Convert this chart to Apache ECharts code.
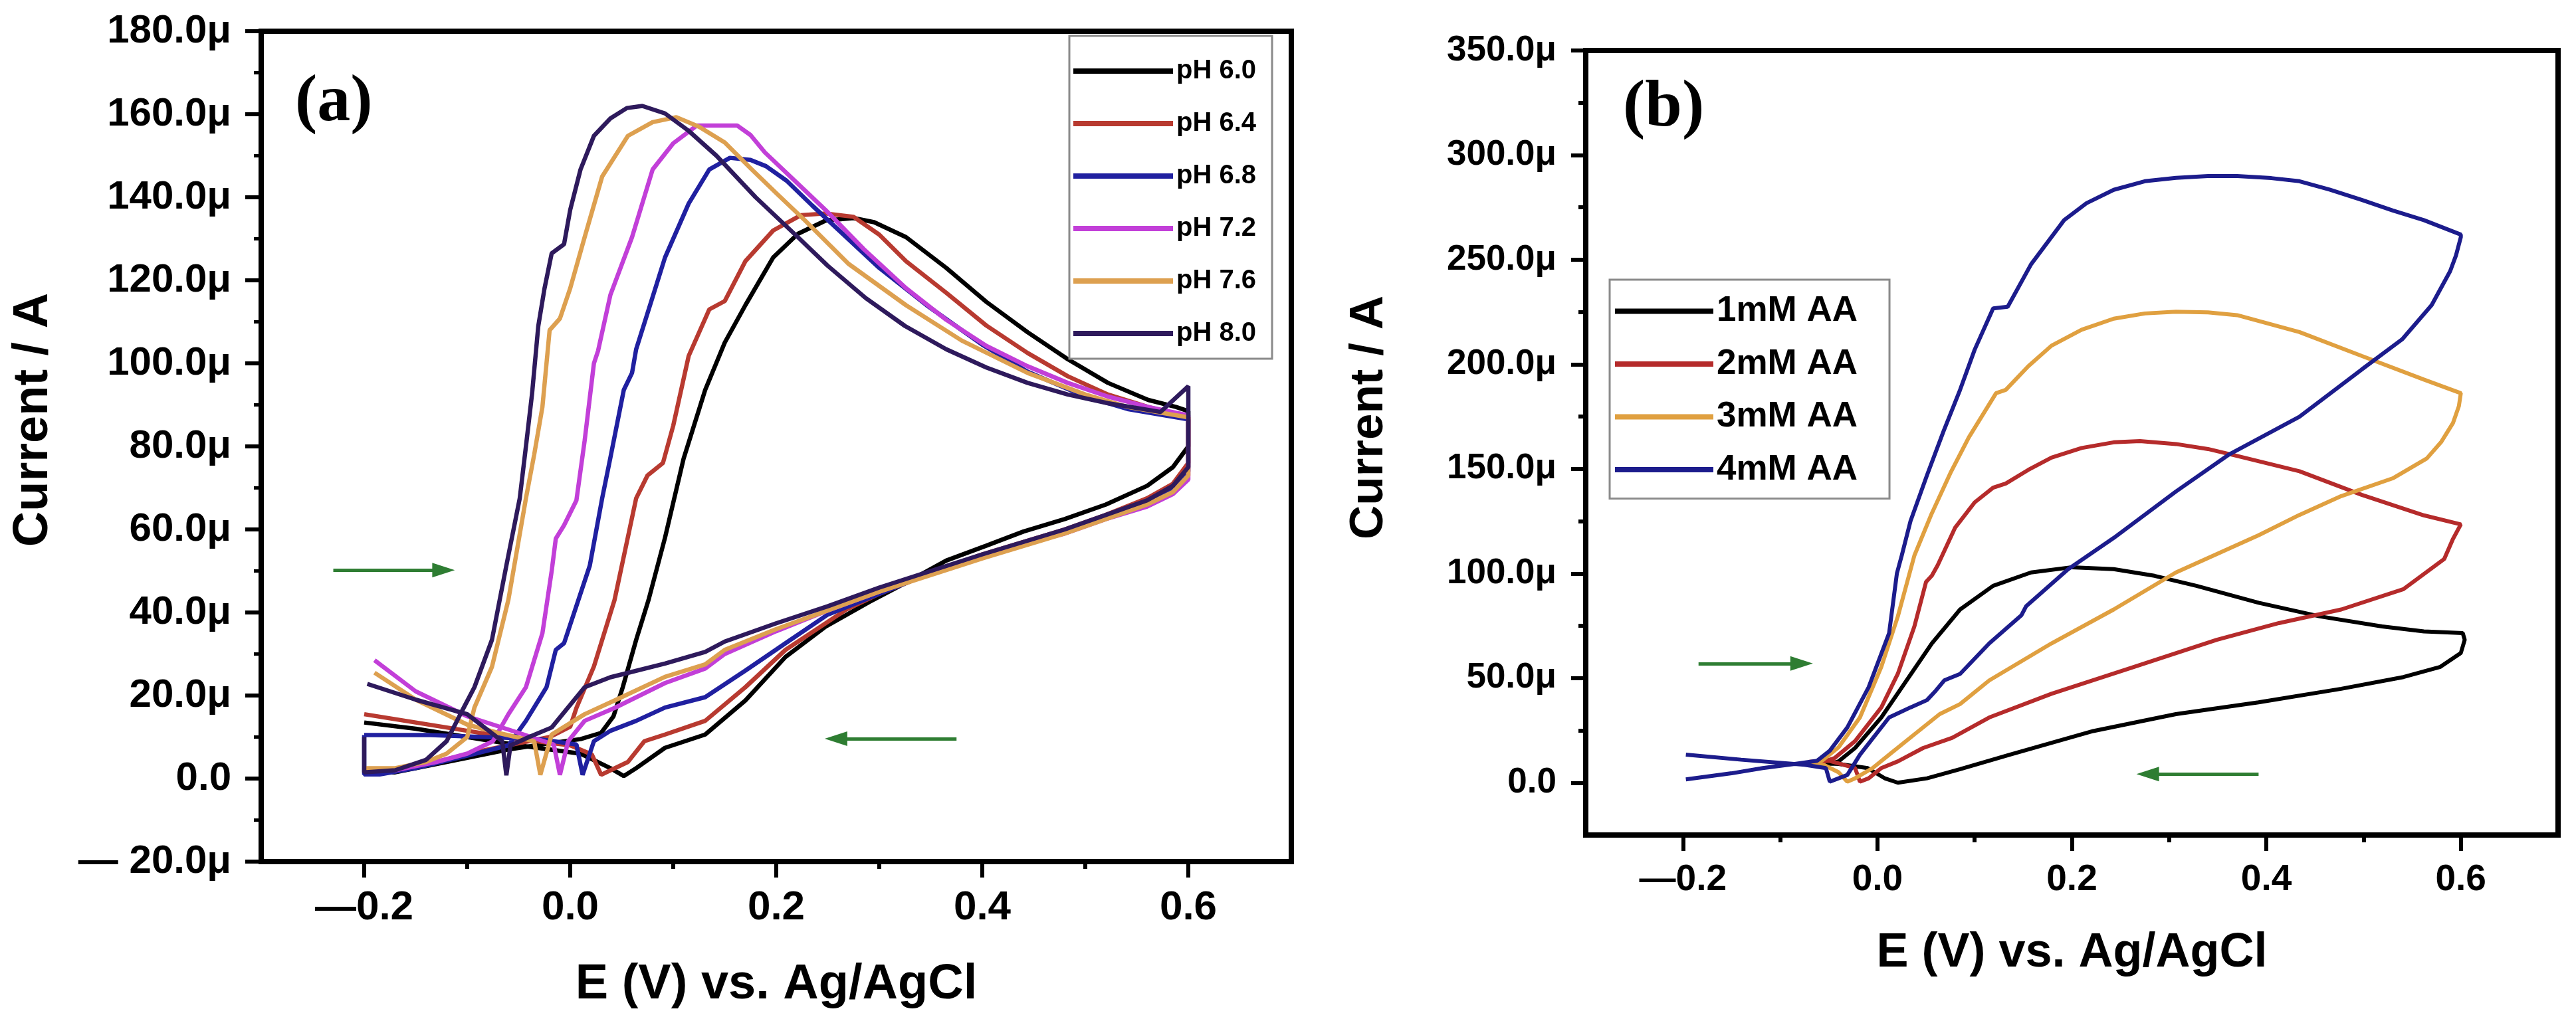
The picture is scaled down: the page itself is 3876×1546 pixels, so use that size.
<!DOCTYPE html>
<html><head><meta charset="utf-8">
<script src="https://cdn.jsdelivr.net/npm/echarts@6/dist/echarts.min.js"></script>
<style>html,body{margin:0;padding:0;background:#fff}#c{width:3876px;height:1546px}</style>
</head><body><div id="c"></div>
<script>
// ---------- Panel (a): CV at different pH (E in V, I in µA) ----------
const phNames = ['pH 6.0','pH 6.4','pH 6.8','pH 7.2','pH 7.6','pH 8.0'];
const phColors = ['#000000','#b83a30','#2020a0','#c23fd8','#dda050','#2e1a5c'];
const ph60 = [[-0.2,1.5],[-0.17,1.5],[-0.14,3],[-0.1,5],[-0.06,7],[-0.02,8.5],[0.01,9.5],[0.03,11],[0.042,15],[0.051,22],[0.064,33.4],[0.076,43],[0.092,58],[0.11,77],[0.131,93.6],[0.15,105],[0.17,114],[0.197,125.5],[0.221,131.2],[0.248,134.4],[0.275,135],[0.295,134],[0.326,130.4],[0.365,123],[0.404,114.8],[0.444,107.5],[0.483,101],[0.522,95.3],[0.561,91.2],[0.588,89.5],[0.6,88.5],
  [0.6,80],[0.585,75],[0.56,70.5],[0.52,66],[0.48,62.5],[0.44,59.5],[0.404,56.1],[0.365,52.5],[0.326,47.2],[0.29,42.5],[0.248,36.6],[0.209,29.3],[0.17,18.8],[0.131,10.6],[0.092,7.4],[0.064,2.5],[0.052,0.6],[0.039,2.5],[0.01,6],[-0.05,8],[-0.1,10],[-0.15,12],[-0.2,13.5]];
const ph64 = [[-0.2,1],[-0.17,2],[-0.13,4],[-0.09,6.5],[-0.05,8.5],[-0.02,10],[0.0,12.5],[0.006,17],[0.023,27],[0.043,43],[0.064,67.5],[0.075,73],[0.09,76],[0.1,85],[0.115,101.8],[0.135,113],[0.15,115],[0.17,124.6],[0.197,132],[0.224,135.7],[0.248,136.1],[0.275,135.3],[0.3,131],[0.326,124.6],[0.365,117],[0.404,109.1],[0.444,102.5],[0.483,96.9],[0.522,92.5],[0.561,89.5],[0.6,87],
  [0.6,76],[0.585,71],[0.56,67.5],[0.52,63.5],[0.48,60],[0.44,57],[0.4,54],[0.35,49.5],[0.3,44.5],[0.268,40.7],[0.209,31],[0.17,22],[0.131,13.9],[0.092,10.6],[0.072,9],[0.056,4],[0.03,0.9],[0.021,5.8],[0.0,8],[-0.05,9.5],[-0.1,11.5],[-0.15,13.5],[-0.2,15.5]];
const ph68 = [[-0.2,10.5],[-0.2,1],[-0.185,1],[-0.15,2.5],[-0.1,5.5],[-0.06,8],[-0.043,13.9],[-0.023,22],[-0.014,31],[-0.006,32.6],[0.019,51.3],[0.031,67.5],[0.039,77.3],[0.052,93.6],[0.06,97.7],[0.064,103.4],[0.08,116],[0.092,125.5],[0.115,138.5],[0.135,146.7],[0.155,149.5],[0.175,149],[0.19,147.5],[0.21,144],[0.235,138],[0.268,130.4],[0.3,123],[0.346,114],[0.4,104.5],[0.444,98],[0.5,92],[0.541,89],[0.6,86.5],
  [0.6,74],[0.585,70],[0.56,66.5],[0.52,63],[0.48,59.5],[0.44,56.5],[0.4,53.5],[0.35,49.5],[0.3,44.5],[0.25,39.5],[0.209,32.6],[0.17,26],[0.131,19.6],[0.092,17.1],[0.064,13.9],[0.039,11.5],[0.023,9],[0.012,0.9],[0.006,8.2],[-0.03,9.5],[-0.06,9.8],[-0.14,10.5],[-0.2,10.5]];
const ph72 = [[-0.2,2],[-0.17,2],[-0.13,4],[-0.1,6],[-0.075,9],[-0.06,15.5],[-0.043,22],[-0.027,35],[-0.018,50],[-0.014,57.8],[-0.006,61],[0.0,64],[0.006,67],[0.014,81.4],[0.023,100],[0.027,103],[0.039,116.5],[0.06,130.4],[0.08,146.7],[0.1,153],[0.123,157.3],[0.162,157.3],[0.175,155],[0.189,150.8],[0.22,143.5],[0.248,136.9],[0.285,127.5],[0.326,118.1],[0.365,110.5],[0.404,104.2],[0.444,99.3],[0.483,95.3],[0.522,92],[0.561,89.5],[0.6,87.5],
  [0.6,72],[0.585,68.5],[0.56,65.5],[0.52,62.5],[0.48,59],[0.44,56.5],[0.4,53.5],[0.35,49.5],[0.3,45],[0.25,40.5],[0.2,35.5],[0.15,30],[0.131,26.5],[0.092,23],[0.043,17],[0.014,13.9],[-0.002,9],[-0.01,0.9],[-0.016,8.2],[-0.05,11],[-0.1,15],[-0.15,21],[-0.19,28.5]];
const ph76 = [[-0.2,2.5],[-0.17,2.5],[-0.14,4],[-0.12,6],[-0.1,10],[-0.093,17.1],[-0.076,26.9],[-0.06,43.1],[-0.043,67.5],[-0.035,78],[-0.027,89.5],[-0.02,108],[-0.01,110.8],[0.0,118.1],[0.014,130.4],[0.031,145],[0.056,154.8],[0.08,158.1],[0.103,159.3],[0.125,157],[0.15,153.2],[0.175,147],[0.2,141],[0.228,134.4],[0.27,124],[0.326,114],[0.38,105.5],[0.444,97.7],[0.5,92.5],[0.541,89.5],[0.6,87],
  [0.6,73],[0.585,69],[0.56,66],[0.52,62.5],[0.48,59],[0.44,56],[0.4,53],[0.35,49],[0.3,45],[0.25,40.5],[0.2,36],[0.15,31],[0.131,27.5],[0.092,24.5],[0.043,18.8],[0.014,15.5],[-0.018,10.6],[-0.029,0.9],[-0.035,9],[-0.07,11],[-0.1,13],[-0.15,19],[-0.19,25.5]];
const ph80 = [[-0.2,10],[-0.2,1.5],[-0.17,2],[-0.14,4.5],[-0.12,9],[-0.105,16.3],[-0.093,22],[-0.076,33.4],[-0.062,51.3],[-0.049,67.5],[-0.043,80],[-0.037,92.8],[-0.031,109],[-0.025,118],[-0.018,126.5],[-0.006,128.7],[0.0,137],[0.01,146.7],[0.023,154.8],[0.039,159],[0.055,161.5],[0.07,162],[0.092,160.2],[0.115,156],[0.142,150],[0.18,140],[0.221,130.4],[0.25,123.5],[0.287,115.7],[0.325,109],[0.365,103.4],[0.404,99],[0.444,95.3],[0.483,92.5],[0.522,90.4],[0.573,88.3],[0.6,94.5],
  [0.6,75],[0.585,70.5],[0.56,67],[0.52,63.5],[0.48,60],[0.44,57],[0.4,54],[0.35,50],[0.3,46],[0.25,41.5],[0.2,37.4],[0.15,33],[0.131,30.5],[0.092,27.7],[0.039,24.4],[0.014,22],[-0.018,12.3],[-0.04,10],[-0.058,8],[-0.062,0.8],[-0.066,9],[-0.1,15.5],[-0.15,19],[-0.197,22.8]];
const phData = [ph60, ph64, ph68, ph72, ph76, ph80];

// ---------- Panel (b): CV at different AA concentrations ----------
const aaNames = ['1mM AA','2mM AA','3mM AA','4mM AA'];
const aaColors = ['#000000','#b52b2b','#e0a040','#1c1c8c'];
const aa1 = [[-0.07,9.5],[-0.053,8.6],[-0.04,10.2],[-0.023,16.6],[0.004,31.2],[0.03,48.9],[0.056,66.6],[0.085,82.8],[0.119,94.1],[0.158,100.5],[0.2,103],[0.243,102.1],[0.285,98.9],[0.328,94.1],[0.392,86],[0.455,79.5],[0.519,74.7],[0.562,72.3],[0.602,71.5],
  [0.604,68.3],[0.6,62],[0.579,55.4],[0.541,50.5],[0.477,44.9],[0.392,38.4],[0.307,32.8],[0.222,24.7],[0.136,13.4],[0.085,6.5],[0.051,2.1],[0.021,0],[0.008,2],[-0.01,7],[-0.04,9],[-0.07,9.5]];
const aa2 = [[-0.07,10],[-0.056,10],[-0.044,11.8],[-0.023,19.9],[0.004,36],[0.021,52.1],[0.038,74.7],[0.05,96],[0.056,99],[0.062,104],[0.08,122],[0.1,134],[0.119,141],[0.132,143],[0.155,149.5],[0.179,155.4],[0.21,160],[0.243,162.7],[0.27,163.3],[0.307,161.9],[0.34,159.5],[0.37,156.2],[0.434,148.9],[0.498,137.6],[0.562,127.8],[0.6,123.5],
  [0.6,123],[0.592,116.6],[0.583,107],[0.541,92.5],[0.477,82.8],[0.413,76.3],[0.349,68.3],[0.264,55.4],[0.179,42.5],[0.115,31.2],[0.077,21.5],[0.047,16.6],[0.021,10.2],[0.004,7],[-0.009,2.1],[-0.018,0.5],[-0.023,7],[-0.05,10.5],[-0.07,10]];
const aa3 = [[-0.07,9],[-0.057,10.5],[-0.04,16.9],[-0.018,31.2],[0.004,55.4],[0.021,79.5],[0.038,108.6],[0.055,127.8],[0.075,148],[0.094,165.1],[0.122,186.2],[0.132,187.8],[0.155,199],[0.179,208.9],[0.21,216.5],[0.243,221.8],[0.275,224.3],[0.307,225.1],[0.34,224.8],[0.37,223.5],[0.434,215.4],[0.498,204],[0.562,192.7],[0.6,186.2],
  [0.598,180],[0.592,172],[0.58,163],[0.565,155],[0.53,145.5],[0.477,137],[0.434,128],[0.392,118.3],[0.307,100.5],[0.243,82.8],[0.179,66.6],[0.115,48.9],[0.085,37.6],[0.064,32.8],[0.038,23.1],[0.012,13.4],[-0.005,7],[-0.023,2.1],[-0.031,0.5],[-0.04,5],[-0.055,8.5],[-0.07,9]];
const aa4 = [[-0.197,1.6],[-0.15,4.5],[-0.118,7],[-0.085,9],[-0.062,10.5],[-0.049,15.3],[-0.031,26.4],[-0.009,45.7],[0.012,71.5],[0.02,100],[0.025,108.6],[0.034,125],[0.051,147],[0.068,168],[0.085,187.8],[0.1,207],[0.119,226.7],[0.134,227.5],[0.158,247.8],[0.192,268.9],[0.215,277],[0.243,283.4],[0.275,287.5],[0.307,289.1],[0.34,290],[0.37,290],[0.405,289],[0.434,287.5],[0.465,283.5],[0.498,278.6],[0.53,273.5],[0.562,268.9],[0.6,262],
  [0.6,260.8],[0.595,252],[0.589,244.5],[0.57,228.3],[0.54,212.1],[0.498,197.5],[0.434,174.9],[0.362,157],[0.307,139.2],[0.243,117],[0.196,102],[0.153,84.4],[0.148,80],[0.115,66.6],[0.085,52],[0.077,50.5],[0.069,49],[0.06,44],[0.051,39.5],[0.034,36],[0.012,31.2],[-0.018,13.4],[-0.031,3.7],[-0.049,0.5],[-0.053,7],[-0.075,8.6],[-0.14,11],[-0.197,13.4]];
const aaData = [aa1, aa2, aa3, aa4];

// ---------- ticks & annotations ----------
const xTicksMajor = [-0.2, 0, 0.2, 0.4, 0.6];
const xTicksMinor = [-0.1, 0.1, 0.3, 0.5];
const yTicksB = [0, 50, 100, 150, 200, 250, 300, 350];
const yTicksBMinor = [25, 75, 125, 175, 225, 275, 325];
const arrowsA = [[[-0.23, 50.2], [-0.123, 50.2]], [[0.375, 9.6], [0.258, 9.6]]];
const arrowsB = [[[-0.184, 57], [-0.078, 57]], [[0.392, 4.1], [0.278, 4.1]]];

const FONT = 'Liberation Sans, Arial, sans-serif';
function fmtY(v){ if (Math.abs(v) < 1e-9) return '0.0'; const s = Math.abs(v).toFixed(1) + 'μ'; return v < 0 ? '\u2014 ' + s : s; }
function fmtX(v){ if (Math.abs(v) < 1e-9) return '0.0'; const s = Math.abs(v).toFixed(1); return v < 0 ? '\u2014' + s : s; }

const axLine = {show:true, onZero:false, lineStyle:{color:'#000', width:8}};
function mainX(grid, fs, margin, nameFs, nameGap){
  return {gridIndex:grid, type:'value', min:-0.3, max:0.7, interval:0.1, position:'bottom',
    axisLine:axLine,
    axisTick:{show:true, inside:false, length:24, lineStyle:{color:'#000', width:6}, customValues:xTicksMajor},
    axisLabel:{show:true, customValues:xTicksMajor, formatter:fmtX, margin:margin, fontSize:fs, fontWeight:'bold', color:'#000', fontFamily:FONT},
    splitLine:{show:false},
    name:'E (V) vs. Ag/AgCl', nameLocation:'middle', nameGap:nameGap, nameMoveOverlap:false,
    nameTextStyle:{fontSize:nameFs, fontWeight:'bold', color:'#000', fontFamily:FONT}};
}
function minorX(grid){
  return {gridIndex:grid, type:'value', min:-0.3, max:0.7, interval:0.1, position:'bottom',
    axisLine:{show:false, onZero:false},
    axisTick:{show:true, inside:false, length:11, lineStyle:{color:'#000', width:6}, customValues:xTicksMinor},
    axisLabel:{show:false}, splitLine:{show:false}};
}
const arrowStyle = {silent:true, symbol:['none','triangle'], symbolSize:[22,34], label:{show:false},
  lineStyle:{color:'#2e7d32', width:5, type:'solid'}, emphasis:{disabled:true}, animation:false};

const series = [];
phData.forEach((d, i) => {
  const s = {name:phNames[i], type:'line', xAxisIndex:0, yAxisIndex:0, data:d, showSymbol:false, symbol:'none',
    lineStyle:{color:phColors[i], width:6.5}, itemStyle:{color:phColors[i]}, z:2+i, animation:false};
  if (i === 0) s.markLine = Object.assign({data: arrowsA.map(a => [{coord:a[0]}, {coord:a[1]}])}, arrowStyle);
  series.push(s);
});
aaData.forEach((d, i) => {
  const s = {name:aaNames[i], type:'line', xAxisIndex:2, yAxisIndex:1, data:d, showSymbol:false, symbol:'none',
    lineStyle:{color:aaColors[i], width:6}, itemStyle:{color:aaColors[i]}, z:2+i, animation:false};
  if (i === 0) s.markLine = Object.assign({data: arrowsB.map(a => [{coord:a[0]}, {coord:a[1]}])}, arrowStyle);
  series.push(s);
});

const chart = echarts.init(document.getElementById('c'), null, {renderer:'canvas'});
chart.setOption({
  animation:false,
  backgroundColor:'#fff',
  title:[
    {text:'(a)', left:444, top:105, padding:0, textStyle:{fontFamily:'Liberation Serif, Times New Roman, serif', fontWeight:'bold', fontSize:100, color:'#000'}},
    {text:'(b)', left:2442, top:113, padding:0, textStyle:{fontFamily:'Liberation Serif, Times New Roman, serif', fontWeight:'bold', fontSize:100, color:'#000'}}
  ],
  grid:[
    {left:393, top:47, width:1550, height:1250, show:true, borderColor:'#000', borderWidth:8, backgroundColor:'transparent', containLabel:false, outerBoundsMode:'none'},
    {left:2386, top:76, width:1463, height:1181, show:true, borderColor:'#000', borderWidth:8, backgroundColor:'transparent', containLabel:false, outerBoundsMode:'none'}
  ],
  legend:[
    {data:phNames, orient:'vertical', left:1609, top:54, padding:[29,24,14,6], itemGap:31, itemWidth:150, itemHeight:8, icon:'rect',
     borderColor:'#8a8a8a', borderWidth:3, backgroundColor:'#fff', selectedMode:false,
     textStyle:{fontSize:40, fontWeight:'bold', color:'#000', fontFamily:FONT, lineHeight:48}},
    {data:aaNames, orient:'vertical', left:2422, top:421, padding:[21,48,17,8], itemGap:26.5, itemWidth:148, itemHeight:8, icon:'rect',
     borderColor:'#8a8a8a', borderWidth:3, backgroundColor:'#fff', selectedMode:false,
     textStyle:{fontSize:53, fontWeight:'bold', color:'#000', fontFamily:FONT, lineHeight:50}}
  ],
  xAxis:[ mainX(0, 62, 39, 74, 149), minorX(0), mainX(1, 55, 40, 72, 142), minorX(1) ],
  yAxis:[
    {gridIndex:0, type:'value', min:-20, max:180, interval:20, position:'left',
     axisLine:axLine,
     axisTick:{show:true, inside:false, length:24, lineStyle:{color:'#000', width:6}},
     minorTick:{show:true, splitNumber:2, length:11, lineStyle:{color:'#000', width:5}},
     axisLabel:{formatter:fmtY, margin:45, fontSize:60, fontWeight:'bold', color:'#000', fontFamily:FONT},
     splitLine:{show:false}, minorSplitLine:{show:false},
     name:'Current / A', nameLocation:'middle', nameGap:305, nameMoveOverlap:false,
     nameTextStyle:{fontSize:74, fontWeight:'bold', color:'#000', fontFamily:FONT, padding:[0,0,0,80]}},
    {gridIndex:1, type:'value', min:-25, max:350, interval:25, position:'left',
     axisLine:axLine,
     axisTick:{show:true, inside:false, length:22, lineStyle:{color:'#000', width:6}, customValues:yTicksB},
     axisLabel:{customValues:yTicksB, formatter:fmtY, margin:44, fontSize:53, fontWeight:'bold', color:'#000', fontFamily:FONT},
     splitLine:{show:false},
     name:'Current / A', nameLocation:'middle', nameGap:290, nameMoveOverlap:false,
     nameTextStyle:{fontSize:71, fontWeight:'bold', color:'#000', fontFamily:FONT, padding:[0,0,0,76]}},
    {gridIndex:1, type:'value', min:-25, max:350, interval:25, position:'left',
     axisLine:{show:false, onZero:false},
     axisTick:{show:true, inside:false, length:11, lineStyle:{color:'#000', width:6}, customValues:yTicksBMinor},
     axisLabel:{show:false}, splitLine:{show:false}}
  ],
  series:series
});
</script></body></html>
